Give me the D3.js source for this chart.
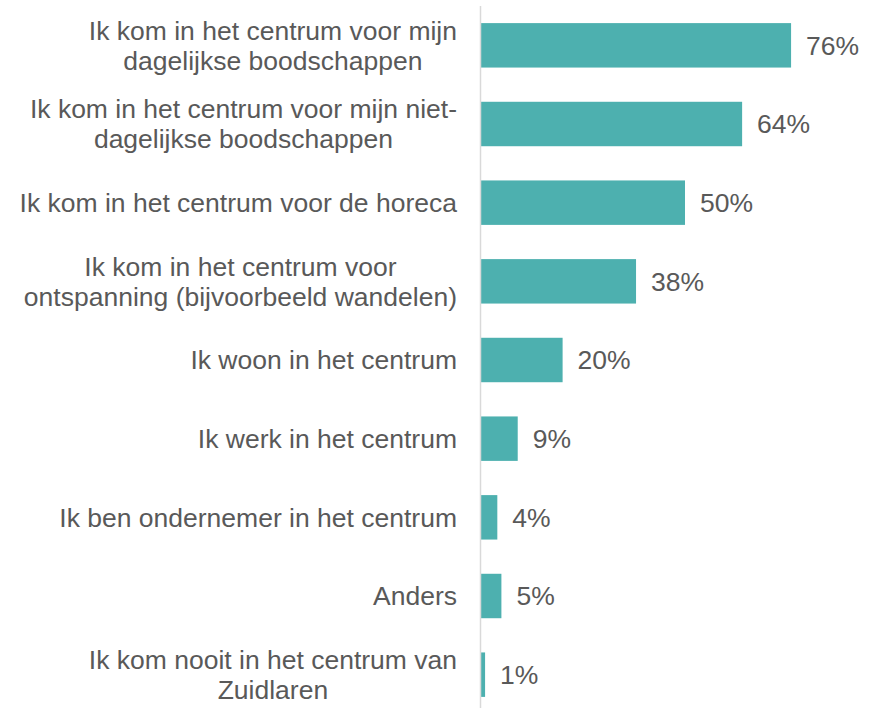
<!DOCTYPE html>
<html><head><meta charset="utf-8">
<script src="https://cdn.jsdelivr.net/npm/d3@7"></script>
<style>body{margin:0;background:#fff;} text{font-family:"Liberation Sans",Arial,sans-serif;}</style>
</head><body>
<svg id="c" width="877" height="708"></svg>
<script>
const categories = [
  ["Ik kom in het centrum voor mijn", "dagelijkse boodschappen"],
  ["Ik kom in het centrum voor mijn niet-", "dagelijkse boodschappen"],
  ["Ik kom in het centrum voor de horeca"],
  ["Ik kom in het centrum voor", "ontspanning (bijvoorbeeld wandelen)"],
  ["Ik woon in het centrum"],
  ["Ik werk in het centrum"],
  ["Ik ben ondernemer in het centrum"],
  ["Anders"],
  ["Ik kom nooit in het centrum van", "Zuidlaren"]
];
const values = [76, 64, 50, 38, 20, 9, 4, 5, 1];
const valueLabels = ["76%", "64%", "50%", "38%", "20%", "9%", "4%", "5%", "1%"];

const svg = d3.select("#c");
const x0 = 481;
const x = d3.scaleLinear().domain([0, 100]).range([x0, x0 + 408]);
const y = d3.scaleBand().domain(d3.range(categories.length)).range([6, 714]).paddingInner(0.435).paddingOuter(0.2175);

svg.selectAll("rect.bar").data(values).join("rect")
  .attr("class", "bar")
  .attr("x", x(0))
  .attr("y", (d, i) => y(i))
  .attr("width", d => x(d) - x(0))
  .attr("height", y.bandwidth())
  .attr("fill", "#4DB0AF");

svg.append("line").attr("x1", 480.5).attr("x2", 480.5).attr("y1", 6).attr("y2", 708)
  .attr("stroke", "#D9D9D9").attr("stroke-width", 1.5);

const fs = 26.5;
const labelRight = 457;
svg.selectAll("text.cat").data(categories).join("text")
  .attr("class", "cat")
  .attr("text-anchor", "middle")
  .attr("font-size", fs)
  .attr("fill", "#595959")
  .each(function(lines, i) {
    const cy = y(i) + y.bandwidth() / 2;
    const lh = 30;
    const start = cy - (lines.length - 1) * lh / 2;
    const spans = d3.select(this).selectAll("tspan").data(lines).join("tspan")
      .attr("y", (d, j) => start + j * lh)
      .attr("dy", "0.35em")
      .text(d => d);
    let maxW = 0;
    spans.each(function() { maxW = Math.max(maxW, this.getComputedTextLength()); });
    spans.attr("x", labelRight - maxW / 2);
  });

svg.selectAll("text.val").data(values).join("text")
  .attr("class", "val")
  .attr("x", d => x(d) + 15)
  .attr("y", (d, i) => y(i) + y.bandwidth() / 2)
  .attr("dy", "0.35em")
  .attr("font-size", fs)
  .attr("fill", "#595959")
  .text((d, i) => valueLabels[i]);
</script>
</body></html>
